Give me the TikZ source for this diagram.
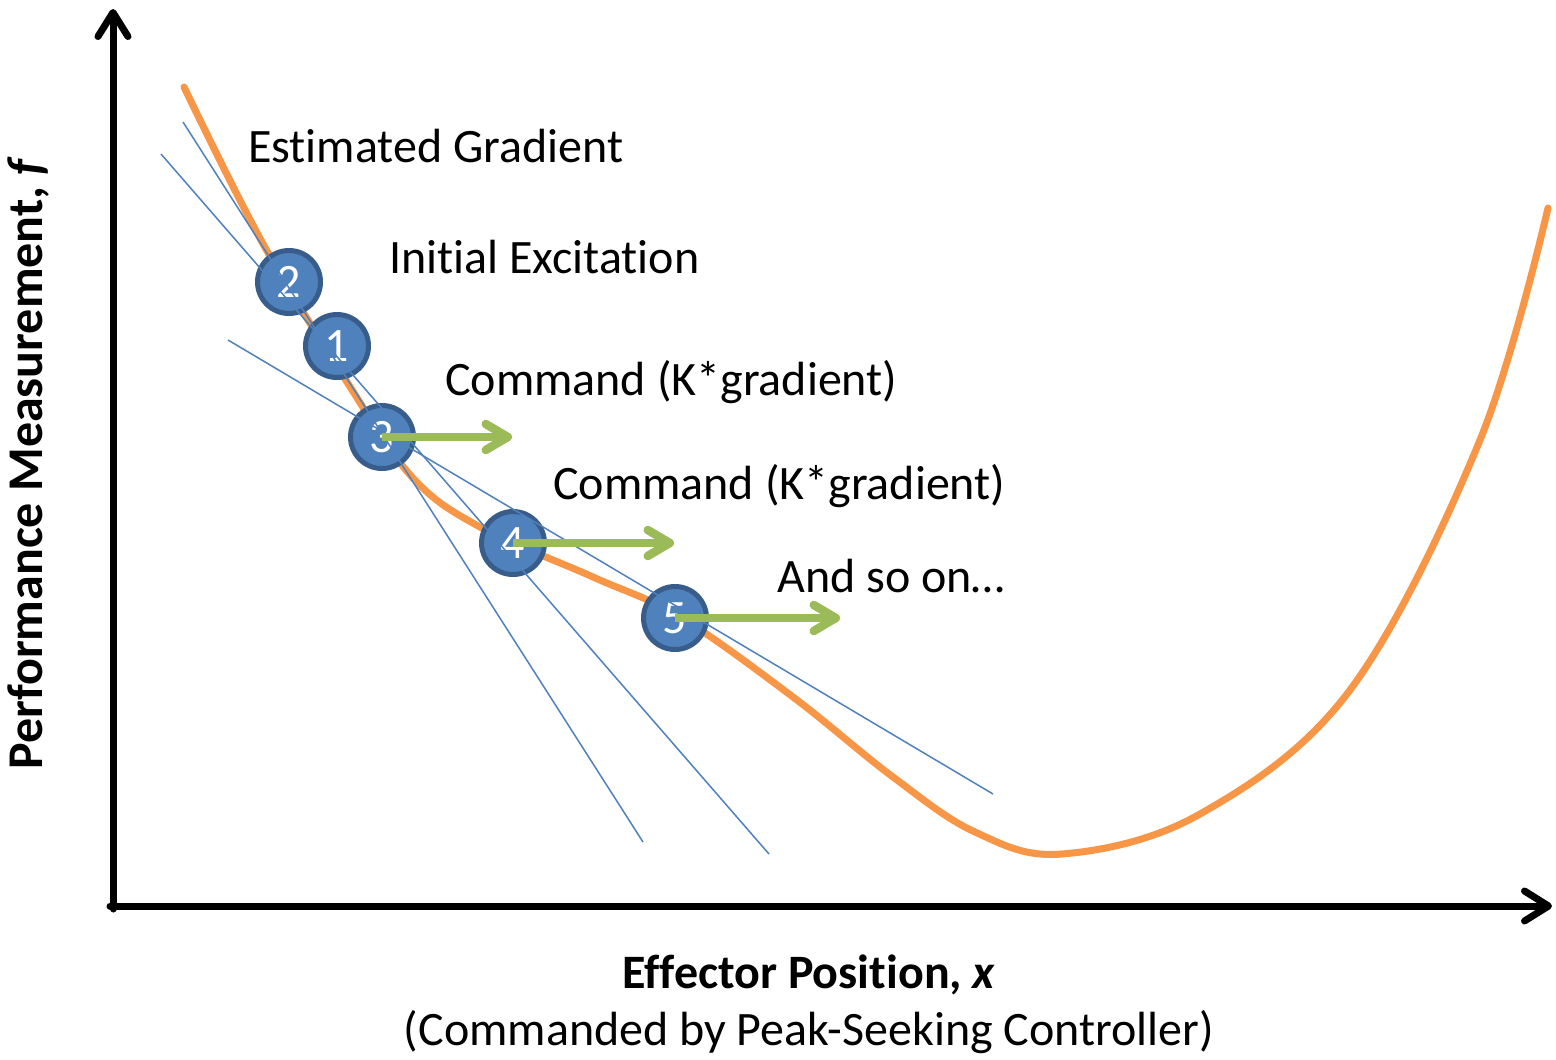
\documentclass[tikz,border=0pt]{standalone}
\usepackage{fontspec}
\setmainfont{Carlito}[Ligatures={NoCommon}]
\usetikzlibrary{arrows.meta}
\definecolor{curveorange}{HTML}{F79646}
\definecolor{tanblue}{HTML}{4F81BD}
\definecolor{ringblue}{HTML}{385D8A}
\definecolor{cmdgreen}{HTML}{9BBB59}
\newcommand\lblfont{\fontsize{48}{57}\selectfont}
\newcommand\ylblfont{\fontsize{50}{60}\selectfont}
\tikzset{
  axisline/.style={line width=7pt, line cap=round,
    -{Straight Barb[length=24pt,width=30pt,line width=7pt,round]}},
  perfcurve/.style={curveorange, line width=7pt, line cap=round},
  tangent/.style={tanblue, line width=1.5pt},
  stepdot/.style={circle, fill=tanblue, draw=ringblue, line width=5pt,
    minimum size=63pt, inner sep=0pt, text=white, font=\lblfont},
  cmdarrow/.style={cmdgreen, line width=8.5pt,
    -{Straight Barb[length=22pt,width=26pt,line width=8.5pt,round]}},
  label/.style={anchor=base west, inner sep=0pt, font=\lblfont}
}
\begin{document}
\begin{tikzpicture}[x=1pt,y=-1pt]
\useasboundingbox (0,0) rectangle (1556,1060);
\fill[white] (0,0) rectangle (1556,1060);

% axes
\coordinate (origin) at (113,906);
\coordinate (ytop) at (113,9);
\coordinate (xend) at (1552,906);
\draw[axisline] ([yshift=-3pt]origin) -- (ytop);
\draw[axisline] ([xshift=-3pt]origin) -- (xend);

% performance curve
\draw[perfcurve] plot[smooth, tension=0.6] coordinates {
 (184,87) (262,242) (347,382) (412,477) (480,527) (593,577)
 (680,617) (793,697) (893,777) (975,832) (1062,854)
 (1200,814) (1350,690) (1480,440) (1548,208)};

% step markers
\node[stepdot] (c2) at (289,282) {2};
\node[stepdot] (c1) at (337,346) {1};
\node[stepdot] (c3) at (382,437) {3};
\node[stepdot] (c4) at (513,543) {4};
\node[stepdot] (c5) at (675,618) {5};

% gradient estimates
\coordinate (a1) at (183,122); \coordinate (a2) at (643,842);
\coordinate (b1) at (161,154); \coordinate (b2) at (769,854);
\coordinate (d1) at (228,340); \coordinate (d2) at (993,794);
\draw[tangent] (a1) -- (a2);
\draw[tangent] (b1) -- (b2);
\draw[tangent] (d1) -- (d2);

% commands
\coordinate (t3) at (512,437);
\coordinate (t4) at (674,543);
\coordinate (t5) at (840,618);
\draw[cmdarrow] (c3.center) -- (t3);
\draw[cmdarrow] (c4.center) -- (t4);
\draw[cmdarrow] (c5.center) -- (t5);

% labels
\node[label] (l1) at (248,162) {Estimated Gradient};
\node[label] (l2) at (389,273) {Initial Excitation};
\node[label] (l3) at (445,395) {Command (K*gradient)};
\node[label] (l4) at (553,499) {Command (K*gradient)};
\node[label] (l5) at (777,592) {And so on…};

\node[anchor=base, inner sep=0pt, font=\lblfont\bfseries] (xl) at (809,988)
  {Effector Position, \textit{x}};
\node[anchor=base, inner sep=0pt, font=\lblfont] (xs) at (809,1045)
  {(Commanded by Peak-Seeking Controller)};
\node[anchor=base, inner sep=0pt, rotate=90, font=\ylblfont\bfseries] (yl) at (42,463)
  {Performance Measurement, \textit{f}};
\end{tikzpicture}
\end{document}
